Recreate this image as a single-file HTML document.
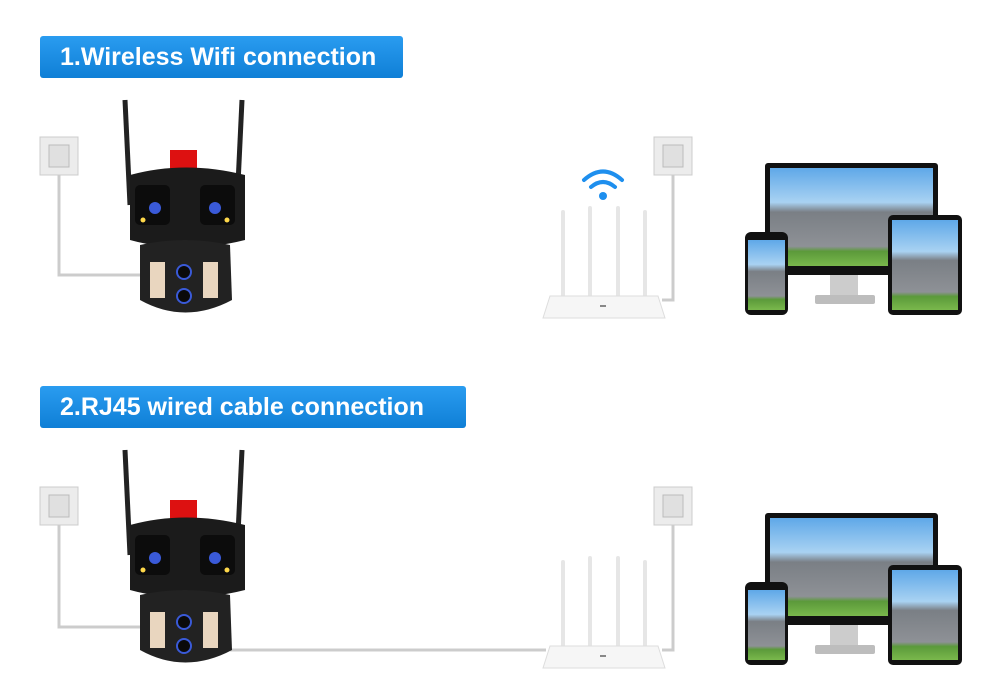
<!DOCTYPE html>
<html><head><meta charset="utf-8"><style>
html,body{margin:0;padding:0;background:#fff;width:1000px;height:700px;overflow:hidden}
.ban{position:absolute;left:40px;height:42px;background:linear-gradient(#2a9cf0,#0f7fd6);color:#fff;font:bold 25px "Liberation Sans",sans-serif;line-height:42px;padding-left:20px;border-radius:3px;box-sizing:border-box}
</style></head><body>
<div class="ban" style="top:36px;width:363px">1.Wireless Wifi connection</div>
<div class="ban" style="top:386px;width:426px">2.RJ45 wired cable connection</div>
<svg width="1000" height="700" style="position:absolute;left:0;top:0">
<defs>
<linearGradient id="scr" x1="0" y1="0" x2="0" y2="1">
<stop offset="0" stop-color="#5fa8e8"/><stop offset="0.35" stop-color="#a9d2f2"/><stop offset="0.45" stop-color="#7a7f85"/><stop offset="0.8" stop-color="#8e9196"/><stop offset="0.85" stop-color="#5b9a3a"/><stop offset="1" stop-color="#7ab84c"/></linearGradient>
<g id="cam">
<line x1="125" y1="100" x2="130" y2="205" stroke="#222" stroke-width="5"/>
<line x1="242" y1="100" x2="237" y2="205" stroke="#222" stroke-width="5"/>
<rect x="170" y="150" width="27" height="22" fill="#d11"/>
<path d="M130 175 Q185 160 245 175 L245 240 Q185 255 130 240Z" fill="#1b1b1b"/>
<rect x="135" y="185" width="35" height="40" rx="5" fill="#0c0c0c"/>
<rect x="200" y="185" width="35" height="40" rx="5" fill="#0c0c0c"/>
<circle cx="155" cy="208" r="6" fill="#3a5ad8"/><circle cx="215" cy="208" r="6" fill="#3a5ad8"/>
<circle cx="143" cy="220" r="2.5" fill="#ffd84a"/><circle cx="227" cy="220" r="2.5" fill="#ffd84a"/>
<path d="M140 245 Q185 235 230 245 L232 300 Q185 325 140 300Z" fill="#222"/>
<rect x="150" y="262" width="15" height="36" fill="#e9d6bf"/><rect x="203" y="262" width="15" height="36" fill="#e9d6bf"/>
<circle cx="184" cy="272" r="7" fill="#0a0a0a" stroke="#3a5ad8" stroke-width="2"/>
<circle cx="184" cy="296" r="7" fill="#0a0a0a" stroke="#3a5ad8" stroke-width="2"/>
</g>
<g id="sock"><rect x="0" y="0" width="38" height="38" fill="#ececec" stroke="#ccc"/><rect x="9" y="8" width="20" height="22" fill="#e0e0e0" stroke="#bbb"/></g>
<g id="router">
<g stroke="#e6e6e6" stroke-width="4" stroke-linecap="round">
<line x1="563" y1="212" x2="563" y2="300"/><line x1="590" y1="208" x2="590" y2="300"/><line x1="618" y1="208" x2="618" y2="300"/><line x1="645" y1="212" x2="645" y2="300"/></g>
<path d="M543 318 L550 296 L658 296 L665 318Z" fill="#f6f6f6" stroke="#ddd"/>
<rect x="600" y="305" width="6" height="2" fill="#888"/>
</g>
<g id="dev">
<rect x="765" y="163" width="173" height="112" rx="3" fill="#111"/>
<rect x="770" y="168" width="163" height="98" fill="url(#scr)"/>
<rect x="830" y="275" width="28" height="20" fill="#ccc"/>
<rect x="815" y="295" width="60" height="9" rx="2" fill="#bdbdbd"/>
<rect x="888" y="215" width="74" height="100" rx="5" fill="#111"/>
<rect x="892" y="220" width="66" height="90" fill="url(#scr)"/>
<rect x="745" y="232" width="43" height="83" rx="6" fill="#111"/>
<rect x="748" y="240" width="37" height="70" fill="url(#scr)"/>
</g>
</defs>
<g fill="none" stroke="#ccc" stroke-width="3">
<path d="M59 175 V275 H140"/><path d="M673 175 V300 H662"/>
<path d="M59 525 V627 H140"/><path d="M673 525 V650 H662"/><path d="M230 650 H546"/>
</g>
<use href="#sock" x="40" y="137"/><use href="#sock" x="654" y="137"/>
<use href="#sock" x="40" y="487"/><use href="#sock" x="654" y="487"/>
<use href="#cam"/><use href="#cam" y="350"/>
<use href="#router"/><use href="#router" y="350"/>
<use href="#dev"/><use href="#dev" y="350"/>
<g fill="none" stroke="#1e8fee" stroke-width="4" stroke-linecap="round">
<path d="M584 180 Q603 163 622 180"/><path d="M591 187 Q603 177 615 187"/></g>
<circle cx="603" cy="196" r="4" fill="#1e8fee"/>
</svg>
</body></html>
